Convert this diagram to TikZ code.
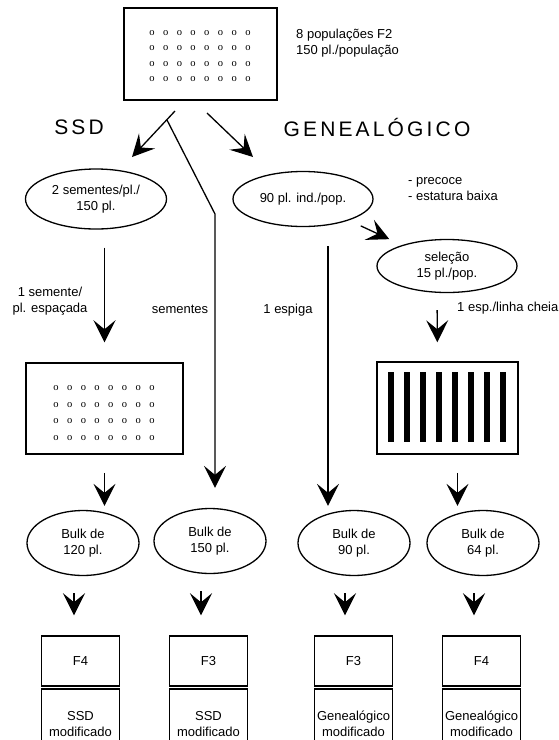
\documentclass[tikz,border=0pt]{standalone}
\usepackage{fontspec}
\setmainfont{Liberation Sans}
\newfontfamily\titlefont[LetterSpace=15]{Liberation Sans}
\newfontfamily\dotfont{Liberation Serif}
\usetikzlibrary{shapes.geometric,arrows.meta}

\begin{document}
\begin{tikzpicture}[x=1pt, y=-1pt,
        every node/.style={font=\fontsize{13}{16}\selectfont, align=center, inner sep=0pt},
        caixa/.style={draw, rectangle, line width=1.5pt},
        elipse/.style={draw, ellipse, line width=1.3pt, minimum width=112pt, minimum height=65pt},
        titulo/.style={font=\titlefont\fontsize{21}{24}\selectfont},
        ponto/.style={font=\dotfont\fontsize{10.5}{10.5}\selectfont},
        seta/.style={line width=1.3pt, -{Stealth[length=22pt, width=22pt, inset=9pt]}}]
    \useasboundingbox (0,0) rectangle (558,740);
    \clip (0,0) rectangle (558,740);

    % populacoes F2
    \node[caixa, minimum width=153pt, minimum height=92pt] (pop) at (200.5,54) {};
    \foreach \c in {0,...,7}
        \foreach \r in {0,...,3}
            \node[ponto] (pa\c\r) at (152+13.7*\c, 33+15.3*\r) {o};
    \node[anchor=west, align=left] (poptxt) at (296,43) {8 populações F2\\150 pl./população};

    \node[titulo] (ssd) at (79,127) {SSD};
    \node[titulo] (gen) at (377,127) {GENEALÓGICO};

    \coordinate (ssdini) at (175,111);
    \coordinate (ssdfim) at (132,157);
    \coordinate (genini) at (207,113);
    \coordinate (genfim) at (253,157);
    \coordinate (ramo) at (167,120);
    \coordinate (dobra) at (215,214);

    % primeira etapa
    \node[elipse, minimum width=141pt, minimum height=60pt] (e1) at (96,199) {2 sementes/pl./\\150 pl.};
    \node[elipse, minimum width=140pt, minimum height=55pt] (e2) at (303,199) {90 pl. ind./pop.};
    \node[anchor=west, align=left] (crit) at (408,189.5) {- precoce\\- estatura baixa};
    \node[elipse, minimum width=140pt, minimum height=53pt] (sel) at (447,266) {seleção\\15 pl./pop.};

    \node (lsem) at (50,301) {1 semente/\\pl. espaçada};
    \node (lsem2) at (180,309) {sementes};
    \node (lesp) at (288,310) {1 espiga};
    \node[anchor=west] (llin) at (457,308) {1 esp./linha cheia};

    % campo
    \node[caixa, minimum width=157pt, minimum height=91pt] (ssdbox) at (104.5,408.5) {};
    \foreach \c in {0,...,7}
        \foreach \r in {0,...,3}
            \node[ponto] (pb\c\r) at (56+13.7*\c, 388+16.7*\r) {o};
    \node[caixa, minimum width=141pt, minimum height=92pt] (linhas) at (447.5,408) {};
    \foreach \k in {0,...,7}
        \fill (388+16*\k,372) rectangle ++(6,70);

    % bulks
    \foreach \n/\x/\y/\q in {b1/83/543/120, b2/210/541/150, b3/354/543/90, b4/483/543/64}
        \node[elipse] (\n) at (\x,\y) {Bulk de\\\q\ pl.};

    \foreach \n/\x/\g/\m in {1/80.5/F4/SSD, 2/208.5/F3/SSD, 3/353.5/F3/Genealógico, 4/481.5/F4/Genealógico} {
        \node[caixa, minimum width=78pt, minimum height=50pt] (f\n) at (\x,661) {\g};
        \node[caixa, minimum width=78pt, minimum height=70pt, anchor=north] (m\n) at (\x,688) {\m\\modificado};
    }

    % setas
    \draw[seta] (ssdini) -- (ssdfim);
    \draw[seta] (genini) -- (genfim);
    \draw[seta, shorten >=20pt] (ramo) -- (dobra) -- (dobra |- b2.north);
    \draw[seta, shorten <=18pt, shorten >=20pt] (e1.south -| ssdbox.north) -- (ssdbox.north);
    \draw[seta, shorten <=13pt, shorten >=14pt] (e2) -- (sel);
    \draw[seta, shorten <=19pt, shorten >=4pt] ([xshift=25pt]e2.south) -- ([xshift=25pt]e2.south |- b3.north);
    \draw[seta, shorten <=17pt, shorten >=19pt] ([xshift=-10pt]sel.south) -- ([xshift=-10pt]linhas.north);
    \draw[seta, shorten <=18pt, shorten >=4pt] (ssdbox.south) -- (ssdbox.south |- b1.north);
    \draw[seta, shorten <=18pt, shorten >=4pt] ([xshift=10pt]linhas.south) -- ([xshift=10pt]linhas.south |- b4.north);
    \foreach \i in {1,...,4}
        \draw[seta, shorten <=17pt, shorten >=20pt] ([xshift=-9pt]b\i.south) -- ([xshift=-9pt]b\i.south |- f\i.north);
\end{tikzpicture}
\end{document}
